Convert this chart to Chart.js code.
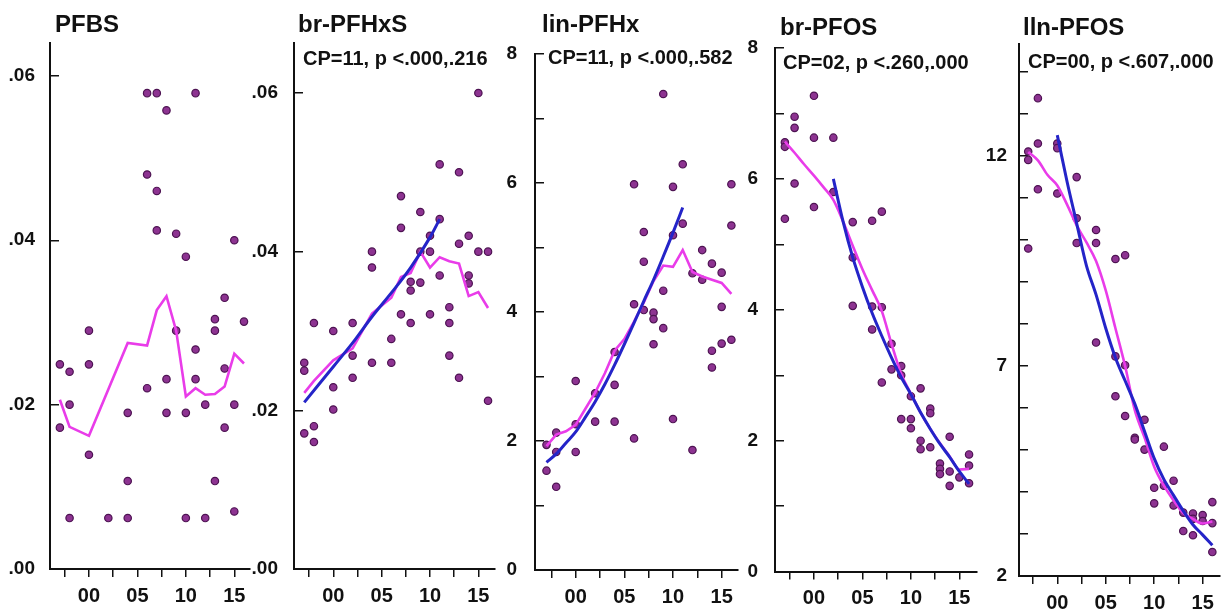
<!DOCTYPE html>
<html>
<head>
<meta charset="utf-8">
<script src="https://cdn.jsdelivr.net/npm/chart.js@4.4.1/dist/chart.umd.min.js"></script>
<style>
  body { margin: 0; background: #fff; width: 1225px; height: 609px; position: relative; overflow: hidden; }
  canvas { position: absolute; top: 0; }
  .ttl { position: absolute; font: bold 24px 'Liberation Sans', Arial, sans-serif; line-height: 24px; color: #111; white-space: nowrap; }
  .cp { position: absolute; font: bold 20px 'Liberation Sans', Arial, sans-serif; line-height: 20px; color: #111; white-space: nowrap; }
</style>
</head>
<body>
<canvas id="c1"></canvas>
<canvas id="c2"></canvas>
<canvas id="c3"></canvas>
<canvas id="c4"></canvas>
<canvas id="c5"></canvas>

<div class="ttl" style="left:55px;top:12px">PFBS</div>
<div class="ttl" style="left:298px;top:12px">br-PFHxS</div>
<div class="ttl" style="left:542px;top:12px">lin-PFHx</div>
<div class="ttl" style="left:780px;top:15px">br-PFOS</div>
<div class="ttl" style="left:1023px;top:15px">lln-PFOS</div>

<div class="cp" style="left:303px;top:48px">CP=11, p &lt;.000,.216</div>
<div class="cp" style="left:548px;top:47px">CP=11, p &lt;.000,.582</div>
<div class="cp" style="left:783px;top:52px">CP=02, p &lt;.260,.000</div>
<div class="cp" style="left:1028px;top:51px">CP=00, p &lt;.607,.000</div>

<script>
// years are counted from 2000 (-3 = 1997 ... 16 = 2016)
const xTicks = [-2.5, 0, 2.5, 5, 7.5, 10, 12.5, 15];
const xTickLabels = ['', '00', '', '05', '', '10', '', '15'];

// PFBS
const pfbsPoints = [
  [-3, 0.0249], [-3, 0.0172], [-2, 0.0240], [-2, 0.0200], [-2, 0.0062],
  [0, 0.0290], [0, 0.0249], [0, 0.0139], [2, 0.0062],
  [4, 0.0190], [4, 0.0107], [4, 0.0062],
  [6, 0.0579], [6, 0.0480], [6, 0.0220],
  [7, 0.0579], [7, 0.0460], [7, 0.0412],
  [8, 0.0558], [8, 0.0231], [8, 0.0190],
  [9, 0.0408], [9, 0.0290],
  [10, 0.0380], [10, 0.0190], [10, 0.0062],
  [11, 0.0579], [11, 0.0267], [11, 0.0231],
  [12, 0.0200], [12, 0.0062],
  [13, 0.0304], [13, 0.0290], [13, 0.0107],
  [14, 0.0330], [14, 0.0244], [14, 0.0172],
  [15, 0.0400], [15, 0.0200], [15, 0.0070],
  [16, 0.0301]
];
const pfbsPinkX = [-3, -2, 0, 4, 6, 7, 8, 9, 10, 11, 12, 13, 14, 15, 16];
const pfbsPinkY = [0.0206, 0.0173, 0.0162, 0.0275, 0.0272, 0.0315, 0.0332, 0.0290, 0.0210, 0.0220, 0.0212, 0.0213, 0.0222, 0.0262, 0.0250];
const pfbsYTicks = [0, 0.02, 0.04, 0.06];
const pfbsYLabels = ['.00', '.02', '.04', '.06'];

// br-PFHxS
const brHxsPoints = [
  [-3, 0.0260], [-3, 0.0250], [-3, 0.0171],
  [-2, 0.0310], [-2, 0.0180], [-2, 0.0160],
  [0, 0.0300], [0, 0.0229], [0, 0.0201],
  [2, 0.0310], [2, 0.0269], [2, 0.0241],
  [4, 0.0400], [4, 0.0380], [4, 0.0260],
  [6, 0.0290], [6, 0.0260],
  [7, 0.0470], [7, 0.0430], [7, 0.0321],
  [8, 0.0362], [8, 0.0351], [8, 0.0310],
  [9, 0.0450], [9, 0.0400], [9, 0.0361],
  [10, 0.0420], [10, 0.0400], [10, 0.0321],
  [11, 0.0510], [11, 0.0441], [11, 0.0370],
  [12, 0.0330], [12, 0.0310], [12, 0.0269],
  [13, 0.0500], [13, 0.0410], [13, 0.0241],
  [14, 0.0420], [14, 0.0370], [14, 0.0360],
  [15, 0.0600], [15, 0.0400],
  [16, 0.0400], [16, 0.0212]
];
const brHxsPinkX = [-3, -2, 0, 2, 4, 6, 7, 8, 9, 10, 11, 12, 13, 14, 15, 16];
const brHxsPinkY = [0.0222, 0.0237, 0.0263, 0.0278, 0.0322, 0.0342, 0.0368, 0.0373, 0.0400, 0.0380, 0.0393, 0.0388, 0.0385, 0.0344, 0.0349, 0.0329];
const brHxsBlueX = [-3, 0, 2, 4, 6, 8, 10, 11];
const brHxsBlueY = [0.0210, 0.0255, 0.0285, 0.0318, 0.0348, 0.0380, 0.0418, 0.0441];

// lin-PFHx
const linHxPoints = [
  [-3, 1.94], [-3, 1.54], [-2, 2.13], [-2, 1.83], [-2, 1.29],
  [0, 2.93], [0, 2.26], [0, 1.83], [2, 2.74], [2, 2.30],
  [4, 3.38], [4, 2.87], [4, 2.30],
  [6, 5.98], [6, 4.12], [6, 2.04],
  [7, 5.24], [7, 4.78], [7, 4.03],
  [8, 3.99], [8, 3.89], [8, 3.50],
  [9, 7.38], [9, 4.33], [9, 3.75],
  [10, 5.94], [10, 5.19], [10, 2.34],
  [11, 6.29], [11, 5.37], [12, 4.60], [12, 1.86],
  [13, 4.96], [13, 4.50],
  [14, 4.75], [14, 3.40], [14, 3.14],
  [15, 4.61], [15, 4.08], [15, 3.51],
  [16, 5.98], [16, 5.34], [16, 3.57]
];
const linHxPinkX = [-3, -2, -1, 0, 1, 2, 3, 4, 5, 6, 7, 8, 9, 10, 11, 12, 13, 14, 15, 16];
const linHxPinkY = [1.92, 2.10, 2.15, 2.25, 2.50, 2.75, 3.05, 3.40, 3.58, 3.85, 4.15, 4.48, 4.72, 4.70, 4.96, 4.62, 4.55, 4.50, 4.45, 4.28];
const linHxBlueX = [-3, -2, -1, 0, 1, 2, 3, 4, 5, 6, 7, 8, 9, 10, 11];
const linHxBlueY = [1.67, 1.80, 1.97, 2.14, 2.37, 2.61, 2.88, 3.18, 3.50, 3.83, 4.17, 4.50, 4.86, 5.23, 5.62];
const eightYTicks = [0, 1, 2, 3, 4, 5, 6, 7, 8];
const eightYLabels = ['0', '', '2', '', '4', '', '6', '', '8'];

// br-PFOS
const brOsPoints = [
  [-3, 6.56], [-3, 6.49], [-3, 5.39],
  [-2, 6.95], [-2, 6.78], [-2, 5.93],
  [0, 7.27], [0, 6.63], [0, 5.57],
  [2, 6.63], [2, 5.80],
  [4, 5.34], [4, 4.80], [4, 4.06],
  [6, 5.36], [6, 4.05], [6, 3.70],
  [7, 5.50], [7, 4.04], [7, 2.89],
  [8, 3.48], [8, 3.09],
  [9, 3.14], [9, 3.00], [9, 2.33],
  [10, 2.68], [10, 2.33], [10, 2.19],
  [11, 2.80], [11, 2.00], [11, 1.87],
  [12, 2.49], [12, 2.42], [12, 1.90],
  [13, 1.65], [13, 1.57], [13, 1.49],
  [14, 2.06], [14, 1.53], [14, 1.31],
  [15, 1.44],
  [16, 1.79], [16, 1.62], [16, 1.35]
];
const brOsPinkX = [-3, -2, -1, 0, 1, 2, 3, 4, 5, 6, 7, 8, 9, 10, 11, 12, 13, 14, 15, 16];
const brOsPinkY = [6.57, 6.40, 6.22, 6.05, 5.87, 5.68, 5.35, 4.98, 4.62, 4.30, 3.98, 3.48, 3.02, 2.72, 2.43, 2.18, 1.96, 1.76, 1.56, 1.57];
const brOsBlueX = [2, 3, 4, 5, 6, 7, 8, 9, 10, 11, 12, 13, 14, 15, 16];
const brOsBlueY = [6.00, 5.35, 4.80, 4.35, 3.95, 3.60, 3.27, 2.97, 2.71, 2.43, 2.18, 1.95, 1.75, 1.53, 1.34];

// lln-PFOS
const linOsPoints = [
  [-3, 12.11], [-3, 11.91], [-3, 9.80],
  [-2, 13.38], [-2, 12.30], [-2, 11.21],
  [0, 12.30], [0, 12.19], [0, 11.11],
  [2, 11.50], [2, 10.52], [2, 9.93],
  [4, 10.24], [4, 9.93], [4, 7.56],
  [6, 9.55], [6, 7.23], [6, 6.28],
  [7, 9.64], [7, 7.02], [7, 5.81],
  [8, 5.29], [8, 5.25],
  [9, 5.72], [9, 5.01],
  [10, 4.10], [10, 3.73],
  [11, 5.08], [11, 4.15],
  [12, 4.27], [12, 3.68],
  [13, 3.51], [13, 3.07],
  [14, 3.49], [14, 3.36], [14, 2.97],
  [15, 3.45], [15, 3.31],
  [16, 3.76], [16, 3.26], [16, 2.57]
];
const linOsPinkX = [-3, -2, -1, 0, 1, 2, 3, 4, 5, 6, 7, 8, 9, 10, 11, 12, 13, 14, 15, 16];
const linOsPinkY = [12.10, 11.90, 11.55, 11.30, 10.85, 10.35, 9.95, 9.50, 8.80, 7.90, 7.00, 5.95, 5.30, 4.60, 4.15, 3.80, 3.50, 3.36, 3.25, 3.30];
const linOsBlueX = [0, 1, 2, 3, 4, 5, 6, 7, 8, 9, 10, 11, 12, 13, 14, 15, 16];
const linOsBlueY = [12.50, 11.40, 10.40, 9.40, 8.70, 7.90, 7.20, 6.65, 6.10, 5.45, 4.80, 4.30, 3.92, 3.55, 3.22, 2.98, 2.73];
const linOsYTicks = [2, 3, 4, 5, 6, 7, 8, 9, 10, 11, 12, 13, 14];
const linOsYLabels = ['2', '', '', '', '', '7', '', '', '', '', '12', '', ''];

const FONT = "'Liberation Sans', Arial, sans-serif";
const INK = '#111';

function xy(xs, ys) {
    return xs.map((x, i) => ({ x: x, y: ys[i] }));
}

// one chart per panel; L/R/T/B are the page positions of the plot frame
function drawPanel(id, o) {
    const canvas = document.getElementById(id);
    const padL = 50, padR = 6;
    canvas.width = o.R - o.L + padL + padR;
    canvas.height = 609;
    canvas.style.left = (o.L - padL) + 'px';

    const datasets = [{
        type: 'scatter',
        data: o.points.map(p => ({ x: p[0], y: p[1] })),
        pointRadius: 3.7,
        pointBackgroundColor: '#8d3391',
        pointBorderColor: '#4d1352',
        pointBorderWidth: 1.2,
        order: 3,
        clip: false
    }, {
        type: 'line',
        data: o.pink,
        borderColor: '#e93ce9',
        borderWidth: 2.6,
        pointRadius: 0,
        tension: o.pinkTension,
        cubicInterpolationMode: o.pinkTension ? 'monotone' : 'default',
        order: 2,
        clip: false
    }];
    if (o.blue) {
        datasets.push({
            type: 'line',
            data: o.blue,
            borderColor: '#2424c8',
            borderWidth: 3,
            pointRadius: 0,
            cubicInterpolationMode: 'monotone',
            order: 1,
            clip: false
        });
    }

    new Chart(canvas, {
        type: 'scatter',
        data: { datasets: datasets },
        options: {
            responsive: false,
            animation: false,
            events: [],
            layout: { padding: { left: 0, right: padR, top: o.T, bottom: 0 } },
            plugins: { legend: { display: false }, tooltip: { enabled: false } },
            scales: {
                x: {
                    type: 'linear',
                    min: o.xMin,
                    max: o.xMax,
                    afterBuildTicks: s => { s.ticks = xTicks.map(v => ({ value: v })); },
                    afterFit: s => { s.height = 609 - o.B; },
                    border: { display: true, color: INK, width: 2 },
                    grid: { drawOnChartArea: false, color: INK, lineWidth: 1.5, tickLength: 8 },
                    ticks: {
                        color: INK,
                        padding: 7,
                        maxRotation: 0,
                        autoSkip: false,
                        font: { family: FONT, size: 20, weight: 'bold' },
                        callback: (v, i) => xTickLabels[i]
                    }
                },
                y: {
                    type: 'linear',
                    min: o.yMin,
                    max: o.yMax,
                    afterBuildTicks: s => { s.ticks = o.yTicks.map(v => ({ value: v })); },
                    afterFit: s => { s.width = padL; },
                    border: { display: true, color: INK, width: 2 },
                    // negative length turns the tick marks into the plot
                    grid: { drawOnChartArea: false, color: INK, lineWidth: 1.5, tickLength: -9 },
                    ticks: {
                        color: INK,
                        padding: o.gap + 9,
                        autoSkip: false,
                        font: { family: FONT, size: 19, weight: 'bold' },
                        callback: (v, i) => o.yLabels[i]
                    }
                }
            }
        }
    });
}

drawPanel('c1', {
    L: 50, R: 250, T: 43, B: 569, gap: 15,
    xMin: -4.02, xMax: 16.62, yMin: 0, yMax: 0.064,
    yTicks: pfbsYTicks, yLabels: pfbsYLabels,
    points: pfbsPoints, pink: xy(pfbsPinkX, pfbsPinkY), pinkTension: 0
});
drawPanel('c2', {
    L: 294, R: 495, T: 43, B: 569, gap: 16,
    xMin: -4.06, xMax: 16.72, yMin: 0, yMax: 0.0663,
    yTicks: pfbsYTicks, yLabels: pfbsYLabels,
    points: brHxsPoints, pink: xy(brHxsPinkX, brHxsPinkY), pinkTension: 0,
    blue: xy(brHxsBlueX, brHxsBlueY)
});
drawPanel('c3', {
    L: 535, R: 738, T: 54, B: 570, gap: 18,
    xMin: -4.18, xMax: 16.68, yMin: 0, yMax: 8,
    yTicks: eightYTicks, yLabels: eightYLabels,
    points: linHxPoints, pink: xy(linHxPinkX, linHxPinkY), pinkTension: 0,
    blue: xy(linHxBlueX, linHxBlueY)
});
drawPanel('c4', {
    L: 775, R: 977, T: 48, B: 575, gap: 17,
    xMin: -4.02, xMax: 16.82, yMin: 0, yMax: 8,
    yTicks: eightYTicks, yLabels: eightYLabels,
    points: brOsPoints, pink: xy(brOsPinkX, brOsPinkY), pinkTension: 0.4,
    blue: xy(brOsBlueX, brOsBlueY)
});
drawPanel('c5', {
    L: 1019, R: 1220, T: 44, B: 576, gap: 12,
    xMin: -3.95, xMax: 16.79, yMin: 2, yMax: 14.67,
    yTicks: linOsYTicks, yLabels: linOsYLabels,
    points: linOsPoints, pink: xy(linOsPinkX, linOsPinkY), pinkTension: 0.4,
    blue: xy(linOsBlueX, linOsBlueY)
});
</script>
</body>
</html>
